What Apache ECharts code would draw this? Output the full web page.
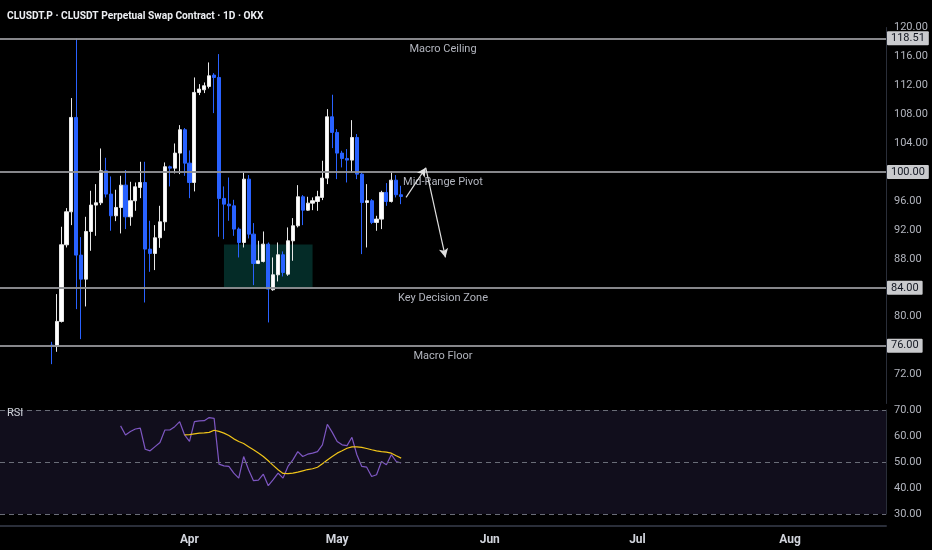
<!DOCTYPE html>
<html>
<head>
<meta charset="utf-8">
<script src="https://cdn.jsdelivr.net/npm/echarts@6/dist/echarts.min.js"></script>
<style>
html,body{margin:0;padding:0;background:#000;}
#c{width:932px;height:550px;}
</style>
</head>
<body>
<div id="c"></div>
<script>
// ---- data ----
const axisStart = '2025-02-22';
const axisDays = 180;
const monthTicks = ['2025-04-01', '2025-05-01', '2025-06-01', '2025-07-01', '2025-08-01'];
const monthTickLabels = ['Apr', 'May', 'Jun', 'Jul', 'Aug'];
const candleStart = '2025-03-04';
// [open, close, low, high]
const candles = [
  [76.07, 75.89, 73.44, 76.53],
  [75.89, 79.35, 75.15, 83.13],
  [79.35, 89.95, 79.2, 92.44],
  [89.95, 94.51, 89.58, 95.02],
  [94.51, 107.56, 92.67, 110.24],
  [107.56, 88.52, 81.05, 118.51],
  [88.52, 85.2, 76.9, 91.01],
  [85.2, 91.79, 81.42, 93.82],
  [91.79, 95.44, 89.12, 97.42],
  [95.44, 95.76, 91.19, 98.34],
  [95.76, 100.18, 95.44, 103.27],
  [100.18, 96.96, 96.5, 101.98],
  [96.96, 93.96, 91.89, 99.4],
  [93.96, 95.11, 93.22, 97.56],
  [95.11, 98.2, 91.52, 99.49],
  [98.2, 93.82, 92.12, 100.28],
  [93.82, 96.04, 92.58, 98.66],
  [96.04, 97.97, 94.65, 98.57],
  [97.88, 98.57, 96.4, 101.43],
  [98.57, 89.35, 81.97, 101.43],
  [89.35, 88.75, 86.21, 93.27],
  [88.75, 90.92, 86.45, 92.67],
  [90.92, 93.13, 89.53, 95.34],
  [93.13, 100.74, 91.89, 101.34],
  [100.74, 100.55, 98.02, 100.9],
  [100.55, 102.63, 99.82, 103.96],
  [102.63, 105.86, 99.72, 106.5],
  [105.86, 101.24, 99.49, 106.09],
  [101.24, 98.57, 96.4, 103.0],
  [98.57, 111.02, 97.33, 113.09],
  [111.02, 111.48, 110.65, 112.17],
  [111.39, 111.94, 110.93, 112.4],
  [111.85, 113.32, 111.57, 115.17],
  [113.42, 113.09, 108.16, 113.69],
  [113.09, 96.36, 91.06, 116.32],
  [96.36, 95.57, 90.73, 98.02],
  [95.57, 95.34, 93.27, 99.26],
  [95.34, 92.12, 91.19, 96.17],
  [92.12, 90.27, 88.2, 92.35],
  [90.27, 99.03, 89.58, 99.95],
  [99.03, 91.42, 90.82, 99.59],
  [91.42, 87.37, 84.37, 92.95],
  [87.37, 87.74, 87.28, 90.5],
  [87.64, 90.04, 87.51, 91.79],
  [90.04, 83.82, 79.21, 90.27],
  [83.73, 85.8, 83.59, 88.2],
  [85.8, 88.57, 84.88, 90.27],
  [88.57, 86.12, 85.57, 89.03],
  [85.89, 90.5, 85.66, 92.35],
  [90.5, 92.58, 87.74, 93.64],
  [92.58, 96.59, 92.35, 98.2],
  [96.59, 94.74, 92.67, 96.82],
  [94.74, 95.71, 94.65, 96.59],
  [95.71, 96.04, 94.74, 96.5],
  [95.94, 96.59, 94.65, 97.42],
  [96.5, 99.17, 96.13, 101.57],
  [99.17, 107.65, 98.34, 108.71],
  [107.65, 105.49, 103.32, 110.7],
  [105.49, 102.63, 99.03, 105.95],
  [102.63, 101.89, 100.65, 102.95],
  [101.89, 101.66, 98.57, 103.18],
  [101.66, 104.79, 99.95, 107.19],
  [104.79, 99.72, 99.03, 105.26],
  [99.72, 95.8, 88.66, 99.95],
  [95.8, 96.04, 89.58, 98.34],
  [96.04, 93.04, 92.81, 96.27],
  [93.04, 93.5, 91.89, 93.96],
  [93.5, 97.19, 92.12, 97.42],
  [97.19, 95.94, 95.34, 98.48],
  [95.94, 98.89, 95.8, 100.05],
  [98.89, 96.87, 96.5, 99.59],
  [96.87, 96.63, 95.57, 98.11]
];
const rsiStart = '2025-03-18';
const rsiValues = [63.9, 60.4, 61.7, 62.7, 63.0, 54.9, 54.3, 55.9, 57.5, 62.3,
  62.3, 63.6, 65.5, 60.4, 57.9, 65.5, 65.8, 65.9, 67.1, 66.8,
  49.2, 48.5, 48.3, 45.7, 43.8, 52.1, 47.0, 42.8, 43.0, 45.3,
  40.9, 43.2, 45.7, 43.8, 48.3, 50.8, 54.0, 52.1, 53.0, 53.4,
  54.0, 56.6, 64.5, 61.4, 57.9, 56.6, 56.3, 59.5, 52.8, 48.3,
  48.0, 44.4, 45.1, 50.2, 48.9, 52.8, 50.2, 49.6];
const maStart = '2025-03-31';
const maValues = [60.4, 60.5, 60.8, 61.1, 61.2, 61.4, 62.2, 61.8, 61.1, 60.2,
  58.9, 57.9, 57.1, 55.9, 54.7, 53.5, 52.1, 50.5, 48.7, 47.0,
  45.6, 45.5, 45.7, 46.1, 46.6, 47.1, 47.4, 48.0, 49.3, 50.8,
  52.1, 53.4, 54.3, 55.3, 55.8, 55.8, 55.6, 55.2, 54.7, 54.3,
  54.0, 53.8, 53.4, 52.4, 51.5];
const levels = [
  {price: 118.51, name: 'Macro Ceiling'},
  {price: 100.00, name: 'Mid-Range Pivot'},
  {price: 84.00, name: 'Key Decision Zone'},
  {price: 76.00, name: 'Macro Floor'}
];
const zone = {from: '2025-04-08', to: '2025-04-26', low: 84, high: 90};
const arrowPath = [
  {date: '2025-05-15', price: 96.5},
  {date: '2025-05-19', price: 100.6},
  {date: '2025-05-23', price: 88.2}
];
const priceTicks = {min: 68, max: 120, step: 4};
const rsiTicks = {min: 30, max: 70, step: 10};
const rsiGuides = [70, 50, 30];

// ---- build ----
function fmt(d){
  const m = d.getUTCMonth()+1, day = d.getUTCDate();
  return d.getUTCFullYear()+'-'+(m<10?'0':'')+m+'-'+(day<10?'0':'')+day;
}
const categories = [];
{
  const p = axisStart.split('-').map(Number);
  const base = Date.UTC(p[0], p[1]-1, p[2]);
  for (let i = 0; i < axisDays; i++) categories.push(fmt(new Date(base + i*86400000)));
}
function fill(startDate, arr){
  const s = categories.indexOf(startDate);
  return categories.map((c, i) => (i >= s && i - s < arr.length) ? arr[i - s] : '-');
}
const candleData = fill(candleStart, candles);
const rsiData = fill(rsiStart, rsiValues);
const maData = fill(maStart, maValues);
const levelSet = levels.map(l => l.price);

const FONT = 'Roboto';
const lvlLines = [];
levels.forEach(l => {
  lvlLines.push({yAxis: l.price, label: {show: true, position: 'end', formatter: l.price.toFixed(2),
    backgroundColor: '#c9cacd', color: '#131722', padding: [2, 4, 1, 4], fontSize: 11, fontFamily: FONT, distance: 1, borderRadius: 1}});
  lvlLines.push({yAxis: l.price, label: {show: true, position: 'insideMiddleBottom', formatter: l.name,
    color: '#b2b5be', fontSize: 11, fontFamily: FONT, distance: 5}});
});

const arrowLines = [];
for (let i = 0; i < arrowPath.length - 1; i++) {
  arrowLines.push([
    {coord: [arrowPath[i].date, arrowPath[i].price], symbol: 'none'},
    {coord: [arrowPath[i+1].date, arrowPath[i+1].price], symbol: 'arrow', symbolSize: [7, 9]}
  ]);
}

const chart = echarts.init(document.getElementById('c'));
chart.setOption({
  backgroundColor: '#000000',
  animation: false,
  textStyle: {fontFamily: FONT},
  title: [
    {text: 'CLUSDT.P · CLUSDT Perpetual Swap Contract · 1D · OKX', left: 2, top: 6,
      textStyle: {color: '#eceef2', fontSize: 10.2, fontWeight: 'bold', fontFamily: FONT}},
    {text: 'RSI', left: 2, top: 403, textStyle: {color: '#d1d4dc', fontSize: 11, fontWeight: 'normal', fontFamily: FONT}}
  ],
  grid: [
    {left: 0, right: 46, top: 27.5, height: 376},
    {left: 0, right: 46, top: 410, height: 104, show: true, backgroundColor: '#110e1c', borderWidth: 0}
  ],
  xAxis: [
    {type: 'category', gridIndex: 0, data: categories, boundaryGap: true,
      axisLine: {show: false}, axisTick: {show: false}, axisLabel: {show: false}, splitLine: {show: false}},
    {type: 'category', gridIndex: 1, data: categories, boundaryGap: true, offset: 12,
      axisLine: {show: true, lineStyle: {color: '#2a2e39', width: 2}}, axisTick: {show: false},
      axisLabel: {color: '#d1d4dc', fontSize: 12, fontWeight: 'bold', margin: 8, fontFamily: FONT,
        interval: (i, v) => monthTicks.indexOf(v) >= 0,
        formatter: v => monthTickLabels[monthTicks.indexOf(v)] || ''},
      splitLine: {show: false}}
  ],
  yAxis: [
    {type: 'value', gridIndex: 0, position: 'right', min: priceTicks.min, max: priceTicks.max, interval: priceTicks.step,
      axisLine: {show: true, lineStyle: {color: '#2a2e39'}}, axisTick: {show: false}, splitLine: {show: false},
      axisLabel: {color: '#b2b5be', fontSize: 11, margin: 8, fontFamily: FONT,
        formatter: v => (v === priceTicks.min || levelSet.indexOf(v) >= 0) ? '' : v.toFixed(2)}},
    {type: 'value', gridIndex: 1, position: 'right', min: rsiTicks.min, max: rsiTicks.max, interval: rsiTicks.step,
      axisLine: {show: true, lineStyle: {color: '#2a2e39'}}, axisTick: {show: false}, splitLine: {show: false},
      axisLabel: {color: '#b2b5be', fontSize: 11, margin: 8, fontFamily: FONT, formatter: v => v.toFixed(2)}}
  ],
  series: [
    {type: 'candlestick', xAxisIndex: 0, yAxisIndex: 0, data: candleData, barWidth: '74%',
      itemStyle: {color: '#ffffff', color0: '#2962ff', borderColor: '#e8e8e8', borderColor0: '#2962ff', borderWidth: 1},
      markArea: {silent: true, itemStyle: {color: '#042b27'},
        data: [[{coord: [zone.from, zone.low]}, {coord: [zone.to, zone.high]}]]},
      markLine: {silent: true, symbol: 'none', lineStyle: {color: '#8f9095', width: 1.5, type: 'solid'},
        data: lvlLines, z: 3}
    },
    {type: 'line', xAxisIndex: 0, yAxisIndex: 0, data: [], silent: true,
      markLine: {silent: true, symbol: ['none', 'arrow'], lineStyle: {color: '#e0e0e0', width: 1.2, type: 'solid'},
        label: {show: false}, data: arrowLines}
    },
    {type: 'line', xAxisIndex: 1, yAxisIndex: 1, data: rsiData, showSymbol: false, connectNulls: false,
      lineStyle: {color: '#7e57c2', width: 1.2}, itemStyle: {color: '#7e57c2'},
      markLine: {silent: true, symbol: 'none', label: {show: false},
        lineStyle: {color: '#6a6d78', width: 1, type: [5, 4]},
        data: rsiGuides.map(v => ({yAxis: v}))}
    },
    {type: 'line', xAxisIndex: 1, yAxisIndex: 1, data: maData, showSymbol: false,
      lineStyle: {color: '#f0c419', width: 1.2}, itemStyle: {color: '#f0c419'}}
  ]
});
</script>
</body>
</html>
